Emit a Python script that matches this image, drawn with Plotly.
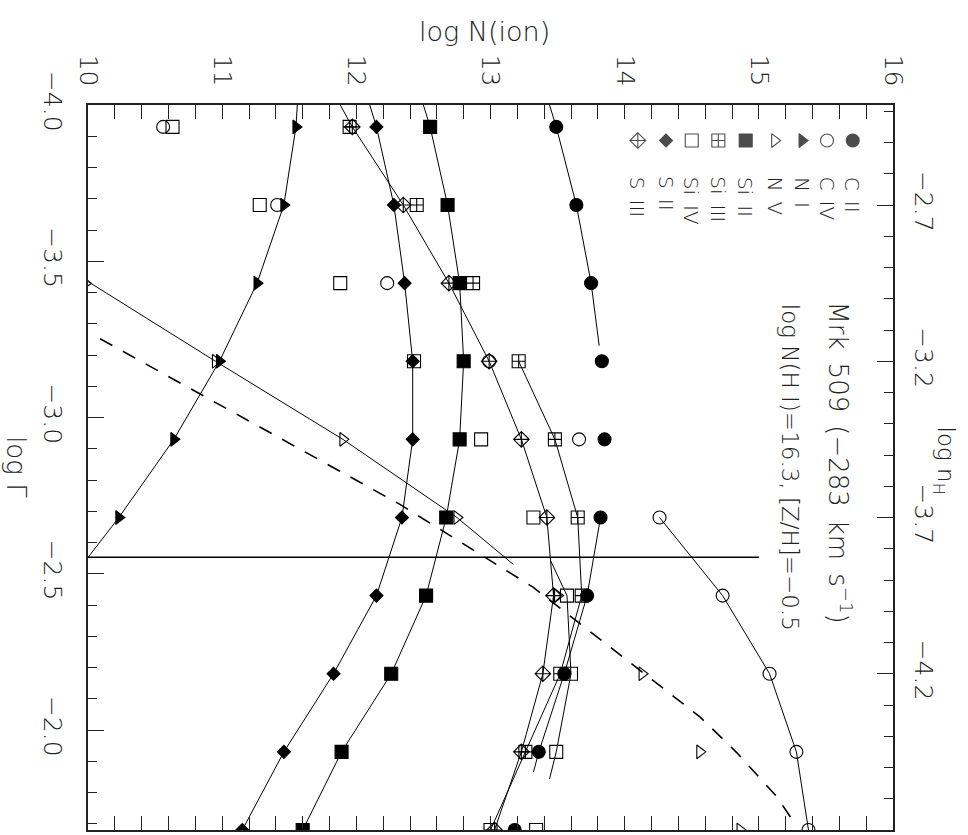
import plotly.graph_objects as go

# ---------------- data ----------------
log_gamma = [-3.93, -3.68, -3.43, -3.18, -2.93, -2.68, -2.43, -2.18, -1.93, -1.68]

c2_vals   = [13.49, 13.64, 13.75, 13.83, 13.85, 13.82, 13.72, 13.55, 13.36, 13.18]
c4_vals   = [10.56, 11.41, 12.23, 12.99, 13.66, 14.26, 14.73, 15.08, 15.28, 15.37]
n1_vals   = [11.55, 11.46, 11.26, 10.98, 10.64, 10.23, None, None, None, None]
n5_vals   = [None, None, 9.98, 10.95, 11.90, 12.75, 13.50, 14.13, 14.56, 14.86]
si2_vals  = [12.55, 12.68, 12.77, 12.80, 12.77, 12.67, 12.52, 12.26, 11.89, 11.60]
si3_vals  = [11.95, 12.45, 12.87, 13.21, 13.48, 13.65, 13.68, 13.52, 13.26, 13.00]
si4_vals  = [10.63, 11.28, 11.88, 12.43, 12.93, 13.32, 13.57, 13.60, 13.49, 13.34]
s2_vals   = [12.15, 12.28, 12.36, 12.42, 12.42, 12.34, 12.15, 11.83, 11.46, 11.15]
s3_vals   = [11.97, 12.35, 12.69, 12.99, 13.23, 13.42, 13.47, 13.39, 13.23, 13.03]

# model curves (solid)
c2_curve1_x = [13.44, 13.49, 13.64, 13.75, 13.81]
c2_curve1_y = [-4.00, -3.93, -3.68, -3.43, -3.23]
c2_curve2_x = [13.82, 13.72, 13.55, 13.36, 13.32]
c2_curve2_y = [-2.68, -2.43, -2.18, -1.93, -1.865]
c4_curve_x  = [14.26, 14.73, 15.08, 15.28, 15.37]
c4_curve_y  = [-2.68, -2.43, -2.18, -1.93, -1.68]
n1_curve_x  = [11.56, 11.55, 11.46, 11.26, 10.98, 10.64, 10.23, 9.78]
n1_curve_y  = [-4.00, -3.93, -3.68, -3.43, -3.18, -2.93, -2.68, -2.43]
n5_curve_x  = [10.00, 10.95, 11.90, 12.75, 13.17]
n5_curve_y  = [-3.435, -3.18, -2.93, -2.68, -2.53]
si2_curve_x = [12.50, 12.55, 12.68, 12.77, 12.80, 12.77, 12.67, 12.52, 12.26, 11.89, 11.60]
si2_curve_y = [-4.00] + log_gamma
si3_curve_x = [13.21, 13.48, 13.65, 13.68, 13.52, 13.26, 13.00]
si3_curve_y = [-3.18, -2.93, -2.68, -2.43, -2.18, -1.93, -1.68]
si4_curve_x = [13.45, 13.57, 13.60, 13.49, 13.44]
si4_curve_y = [-2.54, -2.43, -2.18, -1.93, -1.843]
s2_curve_x  = [12.10, 12.15, 12.28, 12.36, 12.42, 12.42, 12.34, 12.15, 11.83, 11.46, 11.15]
s2_curve_y  = [-4.00] + log_gamma
s3_curve_x  = [11.88, 11.97, 12.35, 12.69, 12.99, 13.23, 13.42, 13.47, 13.39, 13.23, 13.03]
s3_curve_y  = [-4.00] + log_gamma

# dashed curve
dash_x = [10.09, 12.325, 13.317, 14.137, 14.561, 14.837, 14.986, 15.135, 15.285]
dash_y = [-3.252, -2.722, -2.457, -2.185, -2.042, -1.927, -1.856, -1.786, -1.690]

# horizontal reference line
ref_x = [10.0, 15.0]
ref_y = [-2.553, -2.553]

# legend
legend_labels  = ["S III", "S II", "Si IV", "Si III", "Si II", "N V", "N I", "C IV", "C II"]
legend_symbols = ["diamond-cross-open", "diamond", "square-open", "square-cross-open",
                  "square", "triangle-right-open", "triangle-right", "circle-open", "circle"]
legend_sizes   = [12, 10, 13, 13, 13, 12, 12, 13, 13]
legend_xfrac   = [0.683, 0.718, 0.750, 0.783, 0.817, 0.853, 0.887, 0.918, 0.950]

nh_title = "log n<sub>H</sub>"

# ---------------- figure ----------------
FONT = "DejaVu Sans"
fig = go.Figure()

def curve(x, y, dash="solid", width=1.0):
    fig.add_trace(go.Scatter(x=x, y=y, mode="lines",
                             line=dict(color="black", width=width, dash=dash),
                             showlegend=False, hoverinfo="skip"))

for cx, cy in [(c2_curve1_x, c2_curve1_y), (c2_curve2_x, c2_curve2_y),
               (c4_curve_x, c4_curve_y), (n1_curve_x, n1_curve_y),
               (n5_curve_x, n5_curve_y), (si2_curve_x, si2_curve_y),
               (si3_curve_x, si3_curve_y), (si4_curve_x, si4_curve_y),
               (s2_curve_x, s2_curve_y), (s3_curve_x, s3_curve_y)]:
    curve(cx, cy)
curve(dash_x, dash_y, dash="14px,12px", width=1.6)
curve(ref_x, ref_y, width=1.6)

series = [(s3_vals, 0), (s2_vals, 1), (si4_vals, 2), (si3_vals, 3), (si2_vals, 4),
          (n5_vals, 5), (n1_vals, 6), (c4_vals, 7), (c2_vals, 8)]
for vals, k in series:
    sym = legend_symbols[k]
    fig.add_trace(go.Scatter(
        x=vals, y=log_gamma, mode="markers", name=legend_labels[k],
        marker=dict(symbol=sym, size=legend_sizes[k], color="black",
                    line=dict(color="black", width=1.1)),
        showlegend=False))

# legend symbols on an overlay axis pair in [0,1]
fig.add_trace(go.Scatter(
    x=legend_xfrac, y=[0.951] * len(legend_xfrac), mode="markers",
    xaxis="x3", yaxis="y3",
    marker=dict(symbol=legend_symbols, size=legend_sizes, color="black",
                line=dict(color="black", width=1.1)),
    showlegend=False, hoverinfo="skip"))

# dummy trace to activate right axis
fig.add_trace(go.Scatter(x=[None], y=[None], yaxis="y2", showlegend=False))

axis_common = dict(showgrid=False, zeroline=False, showline=True,
                   linecolor="#222", linewidth=1.5, ticks="inside",
                   tickcolor="#222", tickwidth=1.3,
                   tickfont=dict(family=FONT, size=25, color="#222", weight=300))

fig.update_layout(
    width=968, height=835,
    margin=dict(l=88, r=75, t=105, b=3),
    paper_bgcolor="white", plot_bgcolor="white",
    font=dict(family=FONT, color="#222"),
    xaxis=dict(**axis_common, side="top", range=[10, 16], dtick=1, tick0=10,
               tickangle=90, ticklen=14, mirror="allticks", ticklabelstandoff=8,
               minor=dict(ticks="inside", dtick=0.2, ticklen=7,
                          tickcolor="#222", tickwidth=1.2)),
    yaxis=dict(**axis_common, range=[-1.68, -4.0], dtick=0.5, tick0=-4.0,
               tickformat=".1f", tickangle=90, ticklen=16, mirror=True,
               ticklabelstandoff=12,
               minor=dict(ticks="inside", dtick=0.1, ticklen=9,
                          tickcolor="#222", tickwidth=1.2)),
    yaxis2=dict(**axis_common, overlaying="y", side="right",
                range=[-4.70, -2.38], dtick=0.5, tick0=-2.7,
                tickformat=".1f", tickangle=90, ticklen=16,
                ticklabelstandoff=10,
                minor=dict(ticks="inside", dtick=0.1, ticklen=9,
                           tickcolor="#222", tickwidth=1.2)),
    xaxis3=dict(overlaying="x", range=[0, 1], visible=False, fixedrange=True),
    yaxis3=dict(overlaying="y", range=[0, 1], visible=False, fixedrange=True),
)

ann = []
ann.append(dict(text="log N(ion)", xref="paper", yref="paper", x=0.493, y=1.101,
                xanchor="center", yanchor="middle", showarrow=False,
                font=dict(family=FONT, size=27, color="#222", weight=300)))
ann.append(dict(text="log Γ", xref="paper", yref="paper", x=-0.089, y=0.50,
                xanchor="center", yanchor="middle", textangle=90, showarrow=False,
                font=dict(family=FONT, size=26, color="#222", weight=300)))
ann.append(dict(text=nh_title, xref="paper", yref="paper", x=1.063, y=0.51,
                xanchor="center", yanchor="middle", textangle=90, showarrow=False,
                font=dict(family=FONT, size=23, color="#222", weight=300)))
ann.append(dict(text="Mrk\u2002509\u2002(−283\u2002km\u2002s<sup>−1</sup>)",
                xref="paper", yref="paper", x=0.934, y=0.732,
                xanchor="center", yanchor="top", textangle=90, showarrow=False,
                font=dict(family=FONT, size=26, color="#222", weight=300)))
ann.append(dict(text="log N(H I)=16.3, [Z/H]=−0.5",
                xref="paper", yref="paper", x=0.872, y=0.728,
                xanchor="center", yanchor="top", textangle=90, showarrow=False,
                font=dict(family=FONT, size=23, color="#222", weight=300)))
for lab, xf in zip(legend_labels, legend_xfrac):
    ann.append(dict(text=lab.replace(" ", "\u2002"), xref="paper", yref="paper",
                    x=xf, y=0.904, xanchor="center", yanchor="top", textangle=90,
                    showarrow=False, font=dict(family=FONT, size=20, color="#222", weight=300)))
fig.update_layout(annotations=ann)

fig.write_html("out.html")
